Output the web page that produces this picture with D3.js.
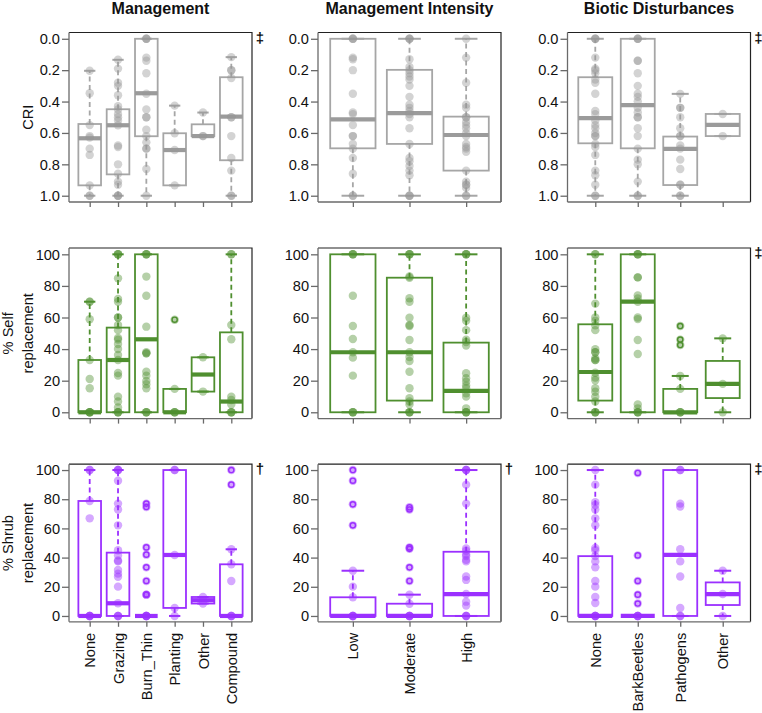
<!DOCTYPE html>
<html><head><meta charset="utf-8">
<script src="https://cdn.jsdelivr.net/npm/d3@7"></script>
<style>
body{margin:0;background:#fff}
svg{display:block}
text{font-family:"Liberation Sans",Arial,Helvetica,sans-serif;fill:#111}
</style>
</head><body>
<svg id="chart" width="762" height="713"></svg>
<script>
// ---------- categories & labels ----------
const mgmtCats   = ["None","Grazing","Burn_Thin","Planting","Other","Compound"];
const intensCats = ["Low","Moderate","High"];
const bioticCats = ["None","BarkBeetles","Pathogens","Other"];
const colTitles  = ["Management","Management Intensity","Biotic Disturbances"];
const rowLabels  = [["CRI"],["% Self","replacement"],["% Shrub","replacement"]];
const criTicks   = [0,0.2,0.4,0.6,0.8,1.0];
const pctTicks   = [0,20,40,60,80,100];
const sigMarks   = [["‡","","‡"],["","","‡"],["†","†","‡"]];

// ---------- box stats: [lowWhisker, q1, median, q3, highWhisker] ----------
const criMgmtBox = [[0.204,0.543,0.634,0.934,1.0],[0.134,0.449,0.551,0.864,1.0],[0,0,0.347,0.621,1.0],
                    [0.426,0.602,0.709,0.934,0.934],[0.47,0.545,0.62,0.62,0.62],[0.117,0.245,0.496,0.774,1.0]];
const criIntensBox = [[0,0,0.513,0.698,1.0],[0,0.198,0.474,0.670,1.0],[0,0.496,0.613,0.840,1.0]];
const criBioticBox = [[0,0.245,0.506,0.666,1.0],[0,0,0.423,0.698,1.0],[0.351,0.623,0.702,0.932,1.0],[0.479,0.479,0.549,0.62,0.62]];

const selfMgmtBox = [[0,0,0,33.1,70],[0,0,33.1,53.6,100],[0,0,46.2,100,100],
                     [0,0,0,14.8,14.8],[13.1,13.1,23.9,34.8,34.8],[0,0,6.8,50.6,100]];
const selfIntensBox = [[0,0,38,100,100],[0,7.4,38,85.2,100],[0,0,13.5,44.1,100]];
const selfBioticBox = [[0,7.4,25.5,55.7,100],[0,0,70,100,100],[0,0,0,14.8,23],[0,9,18,32.5,46.8]];

const shrubMgmtBox = [[0,0,0,78.8,100],[0,0,8.7,43.4,100],[0,0,0,0,0],
                      [0,5.5,41.8,100,100],[8.5,8.5,10.8,13,13],[0,0,0,35.4,45.7]];
const shrubIntensBox = [[0,0,0,12.8,31],[0,0,0,8.4,14.6],[0,0,15,44,100]];
const shrubBioticBox = [[0,0,0,41,100],[0,0,0,0,0],[0,0,41.8,100,100],[0,7.5,15,23,31]];

// ---------- individual observations ----------
const criMgmtPts = [
  [0.204,0.347,0.55,0.62,0.63,0.70,0.74,0.934,1.0,1.0],
  [0.134,0.19,0.28,0.30,0.36,0.43,0.45,0.48,0.50,0.52,0.551,0.68,0.69,0.80,0.86,0.91,0.93,1.0,1.0,1.0],
  [0,0,0,0.12,0.14,0.22,0.35,0.45,0.50,0.50,0.58,0.62,0.66,0.70,0.70,0.83,1.0],
  [0.426,0.602,0.709,0.934],
  [0.47,0.62,0.62],
  [0.117,0.20,0.20,0.25,0.50,0.50,0.62,0.76,0.84,1.0,1.0]];
const criIntensPts = [
  [0,0,0,0.12,0.13,0.20,0.35,0.47,0.48,0.55,0.62,0.62,0.67,0.70,0.76,0.86,1.0,1.0],
  [0,0,0,0.13,0.18,0.20,0.22,0.24,0.26,0.30,0.37,0.42,0.44,0.46,0.48,0.50,0.57,0.67,0.76,0.78,0.81,0.84,0.87,1.0,1.0,1.0],
  [0,0.12,0.28,0.42,0.44,0.50,0.50,0.53,0.55,0.57,0.60,0.62,0.67,0.69,0.70,0.72,0.84,0.91,0.93,0.93,0.95,1.0,1.0]];
const criBioticPts = [
  [0,0,0,0.12,0.19,0.20,0.22,0.26,0.28,0.35,0.46,0.48,0.52,0.55,0.57,0.60,0.62,0.62,0.67,0.69,0.74,0.84,0.87,0.93,1.0,1.0],
  [0,0,0,0.14,0.14,0.22,0.30,0.35,0.37,0.40,0.44,0.47,0.50,0.50,0.57,0.62,0.70,0.77,0.80,0.91,1.0,1.0],
  [0.351,0.44,0.44,0.50,0.57,0.62,0.62,0.68,0.70,0.77,0.83,0.93,0.93,1.0,1.0],
  [0.479,0.62]];

const selfMgmtPts = [
  [0,0,0,0,15.2,21.1,33.1,58.9,70,70],
  [0,0,0,3,6.8,9.9,23.2,24.9,33.1,36.3,40.1,43.2,46,47,52,55.3,60,60,70,71.7,84.8,100,100,100],
  [0,0,0,15.2,17.7,19.8,23.2,25.7,37.3,37.3,38,54.2,73.8,85.9,100,100,100],
  [0,0,0,14.8,58.6],
  [13.1,34.8],
  [0,0,0,5,7.8,9.9,46.2,55.3,100,100]];
const selfIntensPts = [
  [0,0,0,23.2,34.6,38,46.4,54.6,73.8,100,100,100],
  [0,0,0,5,6.8,8.9,15.2,25.7,32.5,35,38,45.8,54.6,55.3,59.9,70,72.2,85.2,86,100,100,100],
  [0,0,0,2.5,9.9,12,15.2,16.9,19.4,21.5,24.7,42.2,44.5,46,52,58,59.9,100,100,100]];
const selfBioticPts = [
  [0,0,0,6.8,9.9,13,15.2,20.3,22,25,33,33,34,38,38,40,52,55,58,60,68.8,100,100],
  [0,0,0,2.5,5,36.9,45.8,59,60,70,72,74,85.4,85.4,100,100,100],
  [0,0,0,14.8,23,42.6,46,54.6],
  [0,18,46.8]];

const shrubMgmtPts = [
  [0,0,0,0,66.9,78.8,100,100],
  [0,0,0,8.7,20.1,26.9,29,31.5,37.4,38,41.5,45,62.1,73,77,92.7,100,100,100],
  [0,0,0,0,0,14.6,14.6,24,33.3,42,47,74.7,77],
  [0,5.5,41.8,100,100],
  [8.5,13],
  [0,0,0,24,35.4,45.7,90,100]];
const shrubIntensPts = [
  [0,0,0,0,12.8,20.1,31,62.1,76.5,92.7,100],
  [0,0,0,0,8.4,14.6,24,33.3,46,47,73,74.5],
  [0,0,0,7.1,9.8,15,24.7,27,37.4,38.5,41,42.2,44.7,46.3,77,90,100,100,100]];
const shrubBioticPts = [
  [0,0,0,0,8.9,13,20.1,24,33.3,37.4,41,45,46.6,62.1,66.9,73,76,78,90,100],
  [0,0,0,0,8.5,14.6,24,41.5,98],
  [0,0,5.5,27,37.4,45.7,75,77,100,100],
  [0,15,31]];

// ---------- layout & styles ----------
const colCats = [mgmtCats, intensCats, bioticCats];
const colLeft = [69, 318, 567.5];
const panelW = 183;
const rowGeo = [{top:32.5,bottom:202},{top:248,bottom:418.6},{top:464.2,bottom:621.8}];
const rowStyle = [
  {stroke:"#a6a6a6", med:"#9b9b9b", pt:"rgba(150,150,150,0.42)"},
  {stroke:"#4f8f2f", med:"#4f8f2f", pt:"rgba(79,143,47,0.42)"},
  {stroke:"#9b30ff", med:"#9b30ff", pt:"rgba(155,48,255,0.42)"}];
const boxes = [[criMgmtBox,criIntensBox,criBioticBox],[selfMgmtBox,selfIntensBox,selfBioticBox],[shrubMgmtBox,shrubIntensBox,shrubBioticBox]];
const points = [[criMgmtPts,criIntensPts,criBioticPts],[selfMgmtPts,selfIntensPts,selfBioticPts],[shrubMgmtPts,shrubIntensPts,shrubBioticPts]];

const svg = d3.select("#chart");
const FS = 14.6;

// column titles
colTitles.forEach((t,c)=>{
  svg.append("text").attr("x",colLeft[c]+panelW/2).attr("y",14)
    .attr("text-anchor","middle").attr("font-weight","bold").attr("font-size",16).text(t);
});

// row labels
rowLabels.forEach((lines,r)=>{
  const cy = (rowGeo[r].top+rowGeo[r].bottom)/2;
  const xs = lines.length===1 ? [33] : [12.5,33.3];
  lines.forEach((l,i)=>{
    svg.append("text").attr("transform",`translate(${xs[i]},${cy}) rotate(-90)`)
      .attr("text-anchor","middle").attr("font-size",FS).text(l);
  });
});

for(let r=0;r<3;r++){
  const {top,bottom} = rowGeo[r];
  const st = rowStyle[r];
  const y = r===0 ? d3.scaleLinear().domain([-0.04,1.04]).range([top,bottom])
                  : d3.scaleLinear().domain([-4,104]).range([bottom,top]);
  const ticks = r===0 ? criTicks : pctTicks;
  for(let c=0;c<3;c++){
    const cats = colCats[c], n = cats.length;
    const left = colLeft[c], right = left+panelW;
    const x = d3.scalePoint().domain(cats).range([left,right]).padding((n*1.077-(n-1))/2);
    const bw = x.step()*0.8, sw = bw*0.5;
    const g = svg.append("g");

    // frame
    g.append("path").attr("d",`M${left},${top}H${right}V${bottom}`).attr("fill","none")
      .attr("stroke","#222").attr("stroke-width",1.2);

    // y axis
    const ya = g.append("g").attr("transform",`translate(${left},0)`)
      .call(d3.axisLeft(y).tickValues(ticks).tickSize(7).tickSizeOuter(0).tickPadding(2)
        .tickFormat(r===0 ? d3.format(".1f") : d3.format("d")));
    ya.select(".domain").attr("d",`M0,${top}V${bottom}`).attr("stroke","#6a6a6a").attr("stroke-width",1.3);
    ya.selectAll(".tick line").attr("stroke","#6a6a6a").attr("stroke-width",1.3);
    ya.selectAll(".tick text").attr("font-size",FS).attr("font-family","Liberation Sans, Arial, sans-serif").attr("fill","#111");

    // x axis
    const xa = g.append("g").attr("transform",`translate(0,${bottom})`)
      .call(d3.axisBottom(x).tickSize(5).tickSizeOuter(0));
    xa.select(".domain").attr("d",`M${left},0H${right}`).attr("stroke","#6a6a6a").attr("stroke-width",1.3);
    xa.selectAll(".tick line").attr("stroke","#6a6a6a").attr("stroke-width",1.3);
    if(r===2){
      xa.selectAll(".tick text").attr("font-size",FS).attr("font-family","Liberation Sans, Arial, sans-serif")
        .attr("fill","#111").attr("transform","rotate(-90)").attr("text-anchor","end")
        .attr("x",-11).attr("y",0).attr("dy","0.35em");
    } else {
      xa.selectAll(".tick text").remove();
    }

    // boxes
    const bx = boxes[r][c];
    cats.forEach((cat,i)=>{
      const [lo,q1,md,q3,hi] = bx[i];
      const cx = x(cat);
      const gb = g.append("g");
      [[q3,hi],[q1,lo]].forEach(([a,b])=>{
        gb.append("line").attr("x1",cx).attr("x2",cx).attr("y1",y(a)).attr("y2",y(b))
          .attr("stroke",st.stroke).attr("stroke-width",1.8).attr("stroke-dasharray","5,3.5");
      });
      [lo,hi].forEach(v=>{
        gb.append("line").attr("x1",cx-sw/2).attr("x2",cx+sw/2).attr("y1",y(v)).attr("y2",y(v))
          .attr("stroke",st.stroke).attr("stroke-width",2);
      });
      const y1 = Math.min(y(q1),y(q3)), y2 = Math.max(y(q1),y(q3));
      gb.append("rect").attr("x",cx-bw/2).attr("y",y1).attr("width",bw).attr("height",y2-y1)
        .attr("fill","none").attr("stroke",st.stroke).attr("stroke-width",1.8);
      gb.append("line").attr("x1",cx-bw/2).attr("x2",cx+bw/2).attr("y1",y(md)).attr("y2",y(md))
        .attr("stroke",st.med).attr("stroke-width",4.2);
      // outliers
      const pts = points[r][c][i];
      pts.filter(v=>v>hi+1e-9||v<lo-1e-9).forEach(v=>{
        gb.append("circle").attr("cx",cx).attr("cy",y(v)).attr("r",2.6)
          .attr("fill","none").attr("stroke",st.stroke).attr("stroke-width",1.4);
      });
      pts.forEach(v=>{
        gb.append("circle").attr("cx",cx).attr("cy",y(v)).attr("r",4.2).attr("fill",st.pt);
      });
    });

    // significance mark
    if(sigMarks[r][c]){
      svg.append("text").attr("x",right+8).attr("y",top+10).attr("text-anchor","middle")
        .attr("font-weight","bold").attr("font-size",15).attr("fill","#000").text(sigMarks[r][c]);
    }
  }
}
</script>
</body></html>
